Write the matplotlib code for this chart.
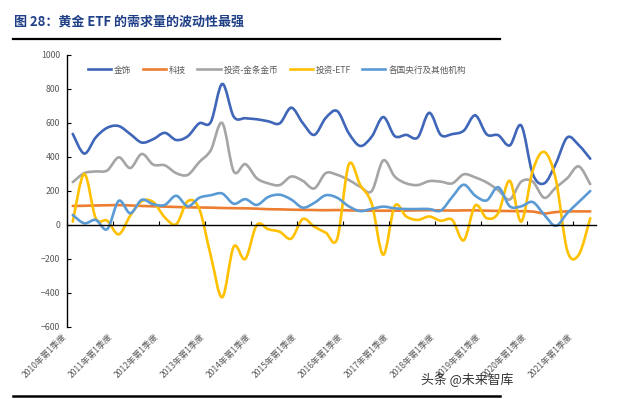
import numpy as np
import matplotlib
matplotlib.use('Agg')
import matplotlib.pyplot as plt
from matplotlib.path import Path
from matplotlib.patches import PathPatch
from matplotlib.lines import Line2D

plt.rcParams['font.family'] = ['Noto Sans CJK SC', 'DejaVu Sans']

# quarterly demand, 2010Q1 - 2021Q2 (tonnes)
years = list(range(2010, 2022))
jewelry = [536, 420, 515, 572, 582, 535, 485, 505, 542, 500, 522, 598,
           605, 830, 637, 628, 622, 610, 598, 690, 600, 530, 630, 670,
           540, 465, 520, 635, 523, 530, 515, 660, 530, 535, 555, 645,
           533, 528, 468, 585, 300, 245, 360, 515, 470, 390]
tech = [112, 113, 115, 116, 117, 115, 112, 110, 108, 106, 104, 103,
        102, 100, 99, 98, 96, 93, 92, 90, 89, 88, 87, 88,
        86, 85, 84, 84, 84, 85, 86, 87, 86, 85, 86, 86,
        84, 83, 82, 81, 79, 68, 76, 80, 80, 80]
bar_coin = [252, 305, 315, 321, 398, 335, 418, 355, 351, 305, 295, 370,
            440, 600, 315, 358, 275, 245, 235, 285, 260, 215, 305, 295,
            265, 225, 200, 380, 285, 245, 235, 258, 255, 245, 298, 280,
            250, 205, 150, 255, 255, 160, 220, 275, 345, 240]
etf = [20, 300, 40, 25, -55, 55, 140, 135, 45, 5, 140, 95,
       -180, -425, -127, -200, 0, -25, -40, -80, 35, -10, -45, -80,
       355, 235, 125, -175, 112, 50, 30, 50, 25, 30, -90, 115,
       40, 70, 260, 20, 320, 430, 270, -150, -175, 40]
central = [59, 10, 30, -24, 142, 69, 148, 122, 118, 172, 110, 160,
           175, 185, 125, 152, 118, 165, 178, 150, 102, 130, 175, 160,
           110, 82, 95, 108, 98, 94, 94, 94, 85, 165, 237, 172,
           145, 222, 110, 110, 135, 60, -5, 70, 135, 200]

series = [
    ('金饰', jewelry, '#3F66B8'),
    ('科技', tech, '#ED7D31'),
    ('投资-金条金币', bar_coin, '#A5A5A5'),
    ('投资-ETF', etf, '#FFC000'),
    ('各国央行及其他机构', central, '#5B9BD5'),
]


def smooth_path(y):
    # excel-like smoothed line: cubic bezier through every point
    x = np.arange(len(y), dtype=float)
    y = np.asarray(y, dtype=float)
    pts = np.column_stack([x, y])
    verts = [pts[0]]
    codes = [Path.MOVETO]
    n = len(pts)
    for i in range(n - 1):
        p0 = pts[i - 1] if i > 0 else pts[i]
        p1 = pts[i]
        p2 = pts[i + 1]
        p3 = pts[i + 2] if i + 2 < n else pts[i + 1]
        c1 = p1 + (p2 - p0) / 6.0
        c2 = p2 - (p3 - p1) / 6.0
        verts += [c1, c2, p2]
        codes += [Path.CURVE4] * 3
    return Path(verts, codes)


fig = plt.figure(figsize=(6.4, 3.99), dpi=100)
ax = fig.add_axes([67 / 640, 1 - 327 / 399, 529 / 640, 272 / 399])

for name, vals, col in series:
    patch = PathPatch(smooth_path(vals), facecolor='none', edgecolor=col,
                      lw=1.9, capstyle='round', joinstyle='round')
    ax.add_patch(patch)

n = len(jewelry)
ax.set_xlim(-0.5, n - 0.5)
ax.set_ylim(-600, 1000)
ax.set_yticks(range(-600, 1001, 200))
ax.set_xticks(np.arange(-0.5, n - 1, 4))
ax.set_xticklabels([])

for s in ['top', 'right']:
    ax.spines[s].set_visible(False)
ax.spines['bottom'].set_position(('data', 0))
ax.spines['left'].set_linewidth(1.0)
ax.spines['bottom'].set_linewidth(1.0)
ax.tick_params(axis='y', direction='in', length=3, labelsize=6.3,
               labelcolor='#595959', pad=5)
ax.tick_params(axis='x', direction='in', length=3)

# category labels at the bottom, every 4 quarters
for k, yr in enumerate(years):
    ax.text(k * 4 - 0.6, -0.03, f'{yr}年第1季度', transform=ax.get_xaxis_transform(),
            rotation=45, rotation_mode='anchor', ha='right', va='center',
            fontsize=6.2, color='#595959')

handles = [Line2D([0], [0], color=c, lw=1.9) for _, _, c in series]
fig.legend(handles, [s[0] for s in series], loc='center',
           bbox_to_anchor=(277 / 640, 1 - 70 / 399), ncol=5, frameon=False,
           fontsize=6.2, handlelength=2.7, columnspacing=1.3, handletextpad=0.35,
           labelcolor='#595959')

fig.text(14 / 640, 1 - 22 / 399, '图 28：黄金 ETF 的需求量的波动性最强',
         fontsize=9.4, fontweight='bold', color='#1F3F86', ha='left', va='center')
fig.add_artist(Line2D([13 / 640, 500 / 640], [1 - 39 / 399, 1 - 39 / 399],
                      color='black', lw=1.6))
fig.add_artist(Line2D([13 / 640, 500 / 640], [1 - 396 / 399, 1 - 396 / 399],
                      color='black', lw=1.8))
fig.text(513 / 640, 1 - 380 / 399, '头条 @未来智库', fontsize=9.3, color='#333333',
         ha='right', va='center')

fig.savefig('out.png', dpi=100)
